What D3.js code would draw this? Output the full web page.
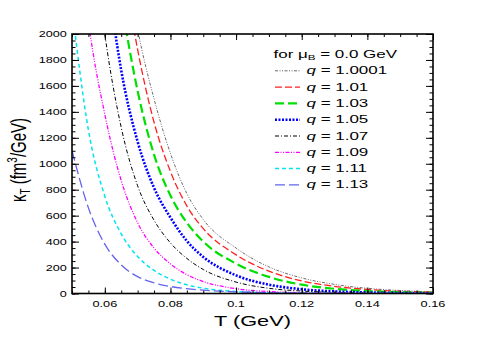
<!DOCTYPE html>
<html><head><meta charset="utf-8">
<script src="https://cdn.jsdelivr.net/npm/d3@7"></script>
<style>body{margin:0;background:#fff}svg{display:block}text{font-family:"Liberation Sans",Arial,sans-serif;fill:#000}</style>
</head><body><svg id="c" width="481" height="346"></svg>
<script>
// ---- data ----
const temps = [0.05,0.055,0.06,0.065,0.07,0.075,0.08,0.085,0.09,0.10,0.11,0.12,0.13,0.14,0.15,0.16];
const qLabels = ["1.0001","1.01","1.03","1.05","1.07","1.09","1.11","1.13"];
const kappa_q10001 = [null,null,null,2850,2040,1500,1080,770,570,350,205,120,70,40,23,13];
const kappa_q101   = [null,null,null,2650,1880,1320,940,675,500,298,172,97,55,31,17,10];
const kappa_q103   = [null,null,null,2250,1560,1070,755,545,400,230,128,68,36,19,10,6];
const kappa_q105   = [null,null,2600,1720,1170,815,585,405,282,140,68,33,16,8,4,2];
const kappa_q107   = [null,3100,2000,1280,830,565,390,270,185,88,40,19,9,4,2,1];
const kappa_q109   = [3300,2100,1380,870,545,350,228,145,92,37,15,6,2.5,1,0.4,0.2];
const kappa_q111   = [2200,1260,750,460,285,178,110,67,41,15,5.5,2,0.8,0.3,0.1,0.05];
const kappa_q113   = [1100,660,380,220,130,82,54,37,26,13,7,4,2,1.2,0.7,0.4];
const xTickValues = [0.06,0.08,0.10,0.12,0.14,0.16];
const xTickLabels = ["0.06","0.08","0.1","0.12","0.14","0.16"];
const yTickValues = [0,200,400,600,800,1000,1200,1400,1600,1800,2000];
const yTickLabels = ["0","200","400","600","800","1000","1200","1400","1600","1800","2000"];

const seriesValues = [kappa_q10001,kappa_q101,kappa_q103,kappa_q105,kappa_q107,kappa_q109,kappa_q111,kappa_q113];
const styles = [
  {c:"#444", w:0.8, d:"3,1.5,1,1.5,1,1.5"},
  {c:"#ff2020", w:1.3, d:"7,3"},
  {c:"#00e000", w:2.2, d:"9,4"},
  {c:"#0000ff", w:2.6, d:"2,1.5"},
  {c:"#000", w:1, d:"4,2,1,2"},
  {c:"#ff00ff", w:1.3, d:"4,1.5,1,1.5,1,1.5"},
  {c:"#00e5ee", w:1.5, d:"4,3"},
  {c:"#6464f0", w:1.3, d:"10,4"}
];

const SX = 1.45; // horizontal text stretch
const L = 72, R = 433, T = 34, B = 293.5;
const x = d3.scaleLinear().domain([0.05,0.16]).range([L,R]);
const y = d3.scaleLinear().domain([0,2000]).range([B,T]);
const svg = d3.select("#c");

svg.append("defs").append("clipPath").attr("id","clip")
  .append("rect").attr("x",L).attr("y",T).attr("width",R-L).attr("height",B-T);

// curves
const line = d3.line().defined(d => d[1] != null)
  .x(d => x(d[0])).y(d => y(d[1])).curve(d3.curveMonotoneX);
const gCurves = svg.append("g").attr("clip-path","url(#clip)");
seriesValues.forEach((vals,i) => {
  const pts = temps.map((t,j) => [t, vals[j]]);
  gCurves.append("path").datum(pts).attr("d", line)
    .attr("fill","none").attr("stroke",styles[i].c)
    .attr("stroke-width",styles[i].w).attr("stroke-dasharray",styles[i].d);
});

// axes ticks (inside)
function ticks(axis, tr, vals, size){
  const g = svg.append("g").attr("transform",tr)
    .call(axis.tickValues(vals).tickSize(size).tickFormat(""));
  g.select(".domain").remove();
  g.selectAll("line").attr("stroke","#000").attr("stroke-width",1);
}
const xMinor = d3.range(0.05, 0.16001, 0.005);
const yMinor = d3.range(0, 2001, 50);
ticks(d3.axisBottom(x), `translate(0,${B})`, xTickValues, -6);
ticks(d3.axisBottom(x), `translate(0,${B})`, xMinor, -3);
ticks(d3.axisTop(x), `translate(0,${T})`, xTickValues, -6);
ticks(d3.axisTop(x), `translate(0,${T})`, xMinor, -3);
ticks(d3.axisLeft(y), `translate(${L},0)`, yTickValues, -7);
ticks(d3.axisLeft(y), `translate(${L},0)`, yMinor, -3.5);
ticks(d3.axisRight(y), `translate(${R},0)`, yTickValues, -7);
ticks(d3.axisRight(y), `translate(${R},0)`, yMinor, -3.5);

svg.append("rect").attr("x",L).attr("y",T).attr("width",R-L).attr("height",B-T)
  .attr("fill","none").attr("stroke","#000").attr("stroke-width",1.6);

// tick labels
xTickValues.forEach((v,i) => {
  svg.append("text").attr("transform",`translate(${x(v)},306.5) scale(${SX},1)`)
    .attr("text-anchor","middle").attr("font-size",8.8).text(xTickLabels[i]);
});
yTickValues.forEach((v,i) => {
  svg.append("text").attr("transform",`translate(66.7,${y(v)+3.1}) scale(${SX},1)`)
    .attr("text-anchor","end").attr("font-size",8.7).text(yTickLabels[i]);
});

// axis titles
svg.append("text").attr("transform",`translate(252.5,325.5) scale(${SX},1)`)
  .attr("text-anchor","middle").attr("font-size",15).text("T (GeV)");
const yt = svg.append("text").attr("transform",`translate(25.5,160) scale(${SX},1) rotate(-90)`)
  .attr("text-anchor","middle").attr("font-size",15);
yt.append("tspan").text("\u03BA");
yt.append("tspan").attr("font-size",10).attr("dy",3).text("T");
yt.append("tspan").attr("dy",-3).text(" (fm");
yt.append("tspan").attr("font-size",10).attr("dy",-6).text("3");
yt.append("tspan").attr("dy",6).text("/GeV)");

// legend
const lt = svg.append("text").attr("transform",`translate(273.5,57.5) scale(${SX},1)`)
  .attr("font-size",11.7);
lt.append("tspan").text("for \u03BC");
lt.append("tspan").attr("font-size",8).attr("dy",2.5).text("B");
lt.append("tspan").attr("dy",-2.5).text(" = 0.0 GeV");
qLabels.forEach((q,i) => {
  const by = 74.3 + i*16.3;
  svg.append("line").attr("x1",275).attr("x2",300).attr("y1",by-3.5).attr("y2",by-3.5)
    .attr("stroke",styles[i].c).attr("stroke-width",styles[i].w).attr("stroke-dasharray",styles[i].d);
  const t = svg.append("text").attr("transform",`translate(306.5,${by}) scale(${SX},1)`).attr("font-size",11.7);
  t.append("tspan").attr("font-style","italic").text("q");
  t.append("tspan").text(" = " + q);
});
</script></body></html>
